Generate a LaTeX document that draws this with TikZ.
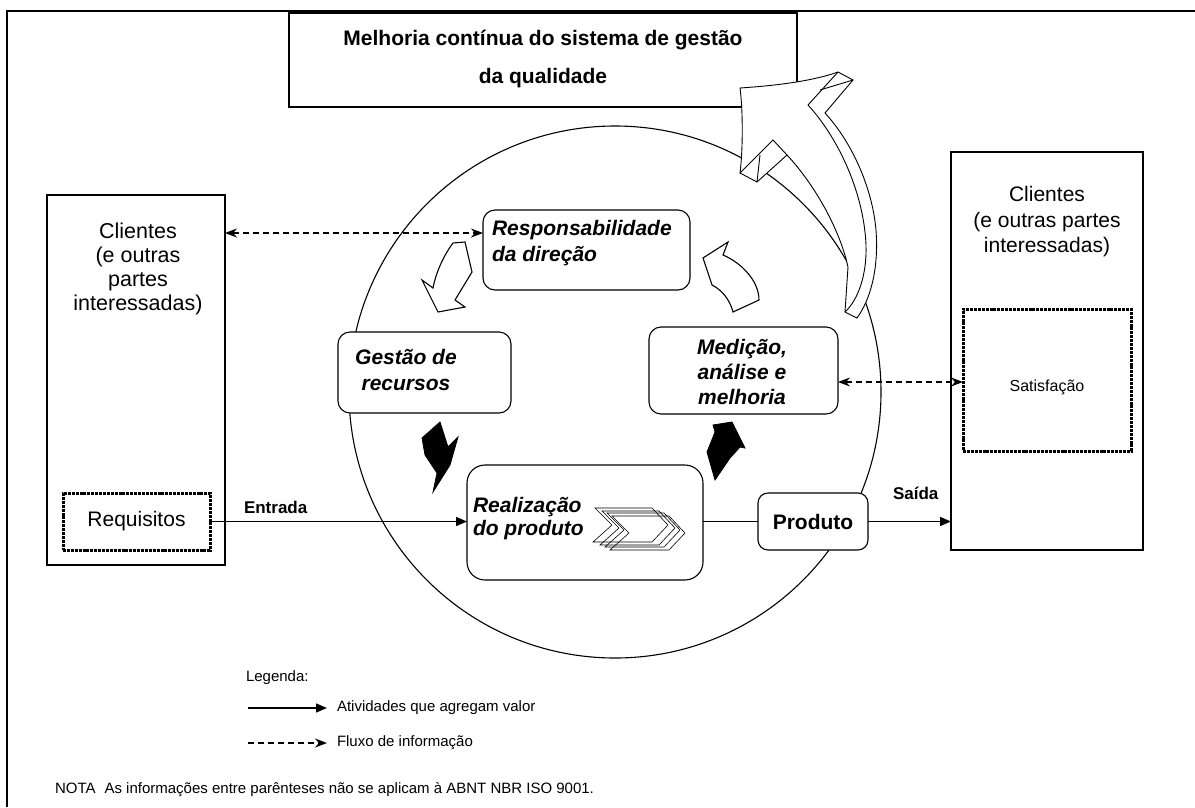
\documentclass[tikz,border=0pt]{standalone}
\usepackage{fontspec}
\setmainfont{Liberation Sans}
\usetikzlibrary{arrows.meta}
\begin{document}
\begin{tikzpicture}[x=1pt,y=-1pt,
  every node/.style={inner sep=0pt, outer sep=0pt},
  clientbox/.style={draw, line width=2.4pt, fill=white},
  dotbox/.style={draw, line width=3pt, dash pattern=on 3pt off 0.9pt, fill=white},
  procbox/.style={draw, line width=1.1pt, rounded corners=12pt, fill=white},
  bigtxt/.style={font=\fontsize{21.5}{24}\selectfont, align=center},
  proctxt/.style={font=\fontsize{21}{26}\selectfont\bfseries\itshape},
  flowlbl/.style={font=\fontsize{17}{20}\selectfont\bfseries},
  legtxt/.style={font=\fontsize{15}{18}\selectfont, anchor=west},
  solidflow/.style={line width=1.4pt, -{Triangle[length=11pt,width=9pt]}},
  infoflow/.style={line width=1.3pt, dash pattern=on 6pt off 4pt,
    {Stealth[length=12pt,width=9pt]}-{Stealth[length=12pt,width=9pt]}},
  infolegend/.style={line width=1.3pt, dash pattern=on 6pt off 4pt,
    -{Stealth[length=12pt,width=9pt]}},
  cyclew/.style={draw, line width=1.1pt, fill=white, line join=miter},
  cycleb/.style={draw, line width=0.8pt, fill=black},
  ribbon/.style={draw, line width=0.9pt, fill=white, line join=miter},
  ribbonline/.style={line width=0.9pt},
  chevron/.style={draw, line width=0.6pt}
]
\useasboundingbox (0,0) rectangle (1195,807);

% outer frame
\draw[line width=1.3pt] (7,807) -- (7,11) -- (1195,11);

% the process cycle
\node[circle, draw, line width=1.1pt, minimum size=532pt] (cyc) at (615,392) {};

% improvement title
\node[draw, line width=2.4pt, fill=white, minimum width=508pt, minimum height=94pt] (titlebox) at (543,60) {};
\node[font=\fontsize{21}{38}\selectfont\bfseries, align=center] (titletxt) at (543,59)
  {Melhoria contínua do sistema de gestão\\da qualidade};

% customers, input side
\node[clientbox, minimum width=178pt, minimum height=370pt] (lcli) at (136,380) {};
\node[bigtxt] (lclitxt) at (138,269) {Clientes\\(e outras\\partes\\interessadas)};
\node[dotbox, minimum width=147pt, minimum height=57pt] (req) at (136.5,521.5) {};
\node[font=\fontsize{21}{24}\selectfont] (reqtxt) at (136.5,521.5) {Requisitos};

% customers, output side
\node[clientbox, minimum width=192pt, minimum height=398pt] (rcli) at (1047,351) {};
\node[font=\fontsize{21}{25.5}\selectfont, align=center] (rclitxt) at (1047,222) {Clientes\\(e outras partes\\interessadas)};
\node[dotbox, minimum width=168pt, minimum height=142pt] (sat) at (1047,380) {};
\node[font=\fontsize{16}{19}\selectfont] (sattxt) at (1047,387) {Satisfação};

% process boxes
\node[procbox, minimum width=207pt, minimum height=80pt] (resp) at (586.5,250) {};
\node[proctxt, align=left, anchor=west] (resptxt) at (492,243.5) {Responsabilidade\\da direção};

\node[procbox, minimum width=173pt, minimum height=81pt] (gest) at (424.5,372.5) {};
\node[proctxt, align=center] (gesttxt) at (406,370) {Gestão de\\recursos};

\node[procbox, minimum width=189pt, minimum height=87pt] (med) at (743.5,370.5) {};
\node[proctxt, align=center, font=\fontsize{21}{25}\selectfont\bfseries\itshape] (medtxt) at (742,372) {Medição,\\análise e\\melhoria};

\node[procbox, rounded corners=18pt, minimum width=236pt, minimum height=115pt] (real) at (585,522.5) {};
\node[proctxt, align=left, anchor=west, font=\fontsize{21}{23}\selectfont\bfseries\itshape] (realtxt) at (473,518.5) {Realização\\do produto};

\node[procbox, rounded corners=10pt, minimum width=110pt, minimum height=57pt] (prod) at (813,521.5) {};
\node[font=\fontsize{21}{24}\selectfont\bfseries] (prodtxt) at (813,521.5) {Produto};

% stacked process chevrons
\foreach \dx/\dy in {0/0,7/3,12/5,17/8}{
  \draw[chevron, shift={(\dx,\dy)}] (595,508) -- (652,508) -- (668,525) -- (652,542) -- (593,542) -- (612,525) -- cycle;
}

% value-adding flow
\draw[solidflow] (req.east) -- (req.east -| real.west);
\node[flowlbl, anchor=south west] (entlbl) at (244,514) {Entrada};
\draw[line width=1.1pt] (prod.west -| real.east) -- (prod.west);
\draw[solidflow] (prod.east) -- (prod.east -| rcli.west);
\node[flowlbl, anchor=south west] (saidalbl) at (893,500) {Saída};

% information flow
\coordinate (la) at (0,233);
\coordinate (ra) at (0,382);
\draw[infoflow] (lcli.east |- la) -- (resp.west |- la);
\draw[infoflow] (med.east |- ra) -- (sat.west |- ra);

% cycle arrows between the processes
\draw[cyclew] (453,243) -- (465,242) -- (472,272) -- (455,300) -- (465,307) -- (438,312) -- (422,280) -- (433,288)
  .. controls (436,272) and (444,255) .. cycle;
\draw[cyclew] (728,242) -- (723,255) .. controls (740,262) and (759,280) .. (759,300) -- (733,312)
  .. controls (730,300) and (722,290) .. (712,285) -- (703,258) -- cycle;
\draw[cycleb] (440,422) -- (422,438) -- (425,455) -- (437,473) -- (433,492) -- (450,465) -- (458,437) -- (448,447) -- cycle;
\draw[cycleb] (732,422) -- (745,448) -- (740,447) -- (730,458) -- (715,480) -- (707,452) -- (715,432) -- (713,425) -- cycle;

% continual improvement arrow
\draw[ribbon] (740,88) .. controls (770,86) and (810,82) .. (838,72) -- (853,80) -- (825,113)
  .. controls (850,140) and (872,185) .. (876,230) .. controls (879,270) and (870,300) .. (857,318)
  -- (845,312) -- (848,267) .. controls (840,230) and (815,185) .. (787,155)
  -- (757,182) -- (740,173) .. controls (743,150) and (743,110) .. cycle;
\draw[ribbonline] (808,105) .. controls (840,140) and (864,195) .. (866,245) .. controls (867,275) and (858,300) .. (845,312);
\draw[ribbonline] (808,105) -- (838,72);
\draw[ribbonline] (820,90) -- (853,80);
\draw[ribbonline] (740,173) -- (773,140) -- (787,155);
\draw[ribbonline] (760,155) -- (757,182);

% legend
\node[legtxt] (legtitle) at (246,678) {Legenda:};
\coordinate (l1a) at (248,708);
\coordinate (l1b) at (327,708);
\draw[solidflow] (l1a) -- (l1b);
\node[legtxt] (l1t) at (337,708) {Atividades que agregam valor};
\coordinate (l2a) at (248,743);
\coordinate (l2b) at (327,743);
\draw[infolegend] (l2a) -- (l2b);
\node[legtxt] (l2t) at (337,743) {Fluxo de informação};

\node[legtxt] (nota) at (55,790) {NOTA\hspace{0.6em}As informações entre parênteses não se aplicam à ABNT NBR ISO 9001.};
\end{tikzpicture}
\end{document}
